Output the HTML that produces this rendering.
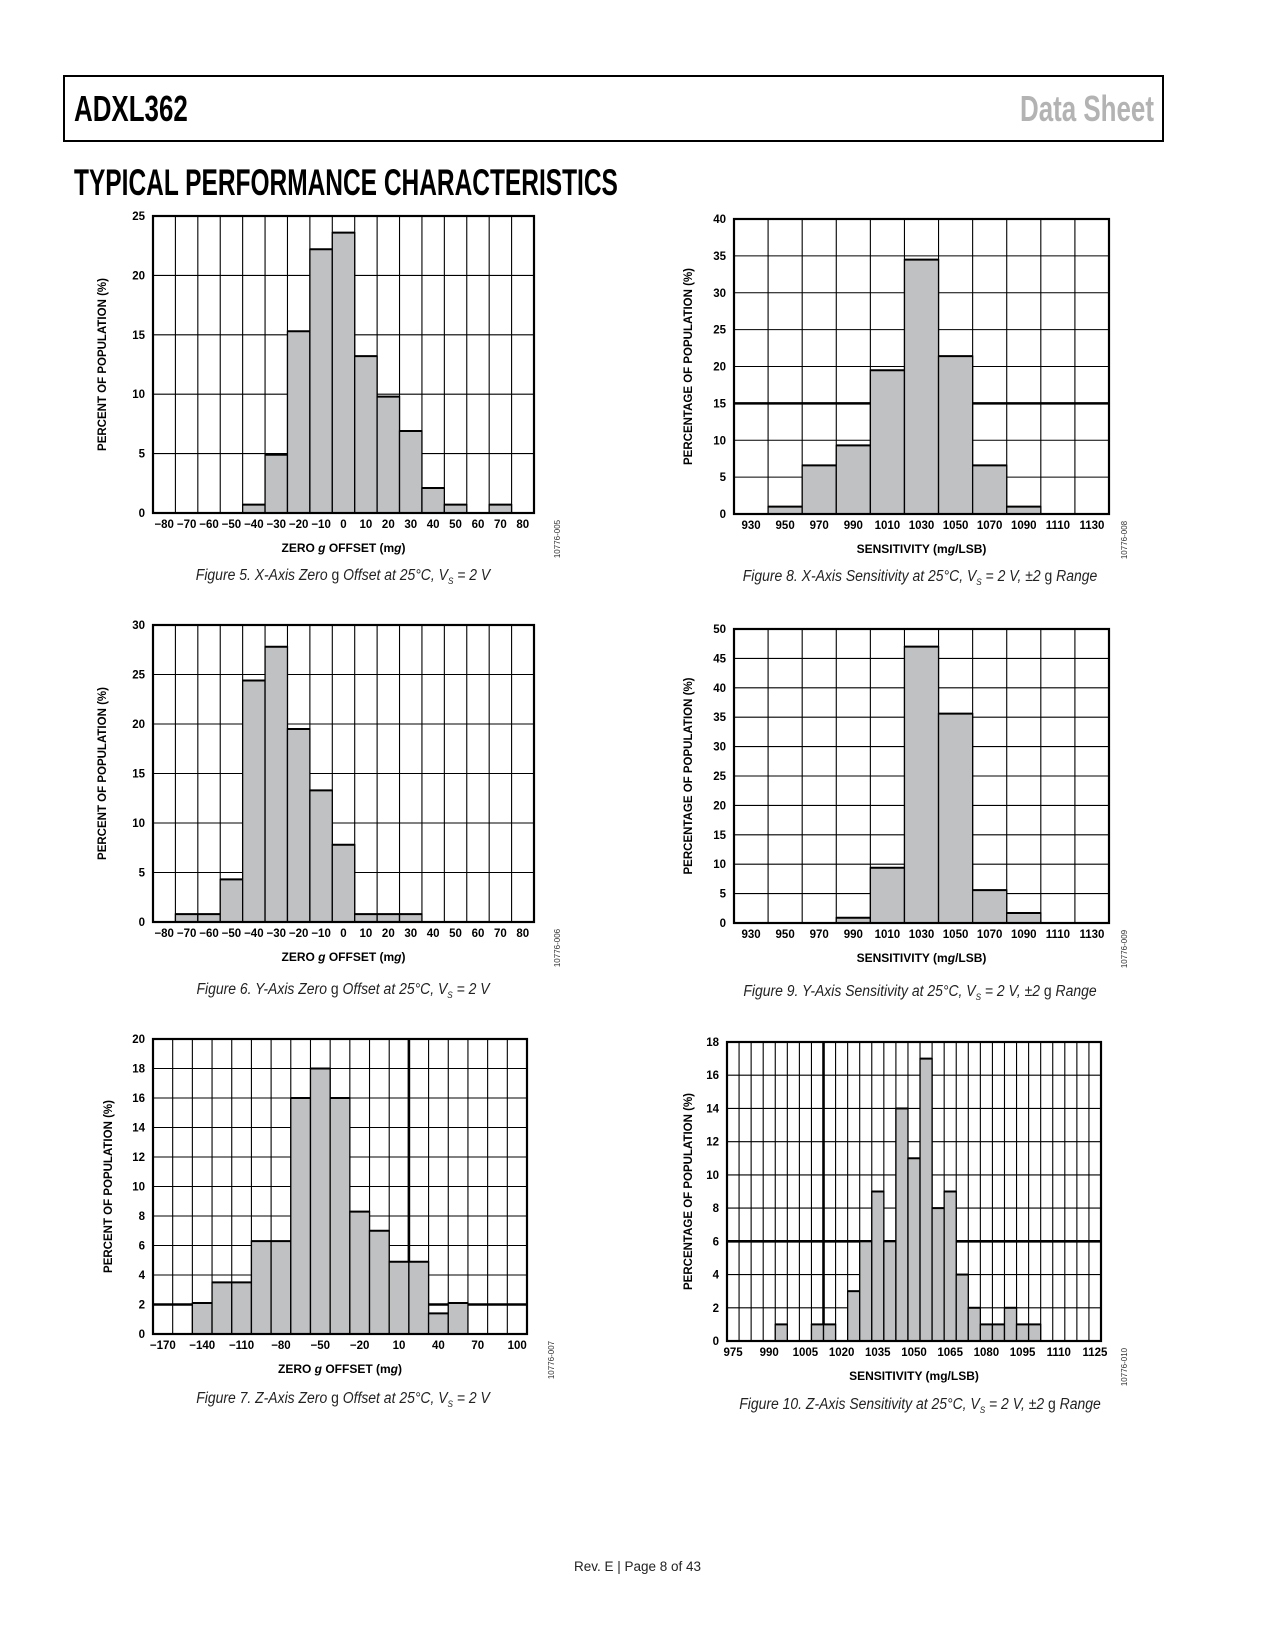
<!DOCTYPE html>
<html><head><meta charset="utf-8">
<style>
html,body{margin:0;padding:0;background:#fff;}
body{width:1275px;height:1650px;position:relative;overflow:hidden;font-family:"Liberation Sans",sans-serif;}
.hdr{position:absolute;left:63px;top:75px;width:1101px;height:67px;border:2px solid #000;box-sizing:border-box;}
.cond{font-weight:bold;transform-origin:0 0;transform:scaleX(0.72);white-space:nowrap;position:absolute;}
.cap{position:absolute;font-style:italic;font-size:15.5px;white-space:nowrap;transform:translateX(-50%) scaleX(0.9);color:#222;}
.foot{position:absolute;top:1559px;left:0;width:1275px;text-align:center;font-size:13.5px;color:#222;}
svg{position:absolute;left:0;top:0;}
</style></head><body>
<div class="hdr"></div>
<div class="cond" style="left:74px;top:88px;font-size:36px;">ADXL362</div>
<div class="cond" style="left:1020px;top:88px;font-size:36px;color:#b3b3b3;">Data Sheet</div>
<div class="cond" style="left:74px;top:162px;font-size:37px;transform:scaleX(0.662);">TYPICAL PERFORMANCE CHARACTERISTICS</div>

<div class="cap" style="left:343px;top:567px;">Figure 5. X-Axis Zero <span style="font-style:normal">g</span> Offset at 25°C, V<sub style="font-size:9px">S</sub> = 2 V</div>
<div class="cap" style="left:920px;top:568px;">Figure 8. X-Axis Sensitivity at 25°C, V<sub style="font-size:9px">S</sub> = 2 V, ±2 <span style="font-style:normal">g</span> Range</div>
<div class="cap" style="left:343px;top:981px;">Figure 6. Y-Axis Zero <span style="font-style:normal">g</span> Offset at 25°C, V<sub style="font-size:9px">S</sub> = 2 V</div>
<div class="cap" style="left:920px;top:983px;">Figure 9. Y-Axis Sensitivity at 25°C, V<sub style="font-size:9px">S</sub> = 2 V, ±2 <span style="font-style:normal">g</span> Range</div>
<div class="cap" style="left:343px;top:1390px;">Figure 7. Z-Axis Zero <span style="font-style:normal">g</span> Offset at 25°C, V<sub style="font-size:9px">S</sub> = 2 V</div>
<div class="cap" style="left:920px;top:1396px;">Figure 10. Z-Axis Sensitivity at 25°C, V<sub style="font-size:9px">S</sub> = 2 V, ±2 <span style="font-style:normal">g</span> Range</div>
<div class="foot">Rev. E | Page 8 of 43</div>

<svg id="charts" width="1275" height="1650"></svg>
<script>
// Figure 5
const fig5Labels = ["−80","−70","−60","−50","−40","−30","−20","−10","0","10","20","30","40","50","60","70","80"];
const fig5Values = [0,0,0,0,0.7,4.9,15.3,22.2,23.6,13.2,9.8,6.9,2.1,0.7,0,0.7,0];
const fig5YTicks = [0,5,10,15,20,25];
// Figure 6
const fig6Labels = ["−80","−70","−60","−50","−40","−30","−20","−10","0","10","20","30","40","50","60","70","80"];
const fig6Values = [0,0.8,0.8,4.3,24.4,27.8,19.5,13.3,7.8,0.8,0.8,0.8,0,0,0,0,0];
const fig6YTicks = [0,5,10,15,20,25,30];
// Figure 7
const fig7Labels = ["−170","","−140","","−110","","−80","","−50","","−20","","10","","40","","70","","100"];
const fig7Values = [0,0,2.1,3.5,3.5,6.3,6.3,16,18,16,8.3,7.0,4.9,4.9,1.4,2.1,0,0,0];
const fig7YTicks = [0,2,4,6,8,10,12,14,16,18,20];
// Figure 8
const fig8Labels = ["930","950","970","990","1010","1030","1050","1070","1090","1110","1130"];
const fig8Values = [0,1.0,6.6,9.3,19.5,34.5,21.4,6.6,1.0,0,0];
const fig8YTicks = [0,5,10,15,20,25,30,35,40];
// Figure 9
const fig9Labels = ["930","950","970","990","1010","1030","1050","1070","1090","1110","1130"];
const fig9Values = [0,0,0,0.9,9.4,47,35.6,5.6,1.7,0,0];
const fig9YTicks = [0,5,10,15,20,25,30,35,40,45,50];
// Figure 10
const fig10Labels = ["975","","","990","","","1005","","","1020","","","1035","","","1050","","","1065","","","1080","","","1095","","","1110","","","1125"];
const fig10Values = [0,0,0,0,1,0,0,1,1,0,3,6,9,6,14,11,17,8,9,4,2,1,1,2,1,1,0,0,0,0,0];
const fig10YTicks = [0,2,4,6,8,10,12,14,16,18];

const NS="http://www.w3.org/2000/svg";
const svg=document.getElementById('charts');
function mk(tag,attrs,parent,text){const e=document.createElementNS(NS,tag);for(const k in attrs)e.setAttribute(k,attrs[k]);if(text!==undefined)e.textContent=text;(parent||svg).appendChild(e);return e;}

function chart(cfg){
  const g=mk('g',{});
  
  
  const {L,R,T,B,labels,values,yTicks}=cfg;
  const n=labels.length, ymax=yTicks[yTicks.length-1];
  const cw=(R-L)/n;
  const xs=i=>L+i*cw;
  const ys=v=>B-(v/ymax)*(B-T);
  for(let i=1;i<n;i++){
    const gl=mk('line',{x1:xs(i),x2:xs(i),y1:T,y2:B,stroke:'#000','stroke-width':(cfg.thickV===i?2.6:1.1)},g);
    
    
  }
  yTicks.forEach(t=>{
    if(t>0&&t<ymax){
      const hl=mk('line',{x1:L,x2:R,y1:ys(t),y2:ys(t),stroke:'#000','stroke-width':(cfg.thickH===t?2.6:1.1)},g);
      
      
    }
    const tl=mk('text',{x:L-8,y:ys(t)+4,'text-anchor':'end','font-size':11.5,'font-weight':'bold','font-family':'Liberation Sans, sans-serif'},g,String(t));
    
    
  });
  values.forEach((v,i)=>{
    if(v<=0)return;
    const r=mk('rect',{x:xs(i),y:ys(v),width:cw,height:B-ys(v),fill:'#c0c1c3',stroke:'#000','stroke-width':1.3},g);
    
    
    const tp=mk('line',{x1:xs(i),x2:xs(i)+cw,y1:ys(v),y2:ys(v),stroke:'#000','stroke-width':2},g);
    
    
  });
  const fr=mk('rect',{x:L,y:T,width:R-L,height:B-T,fill:'none',stroke:'#000','stroke-width':2.2},g);
  
  
  labels.forEach((lb,i)=>{
    if(!lb)return;
    const xl=mk('text',{x:xs(i)+cw/2,y:B+15,'text-anchor':'middle','font-size':11.5,'font-weight':'bold','font-family':'Liberation Sans, sans-serif'},g,lb);
    
    
  });
  const xt=mk('text',{x:(L+R)/2,y:B+39,'text-anchor':'middle','font-size':12,'font-weight':'bold','font-family':'Liberation Sans, sans-serif'},g);
  xt.innerHTML=cfg.xTitle;
  
  
  const cy=(T+B)/2;
  const yt=mk('text',{x:cfg.yTitleX,y:cy,'text-anchor':'middle','font-size':11.5,'font-weight':'bold','font-family':'Liberation Sans, sans-serif',transform:`rotate(-90 ${cfg.yTitleX} ${cy})`},g,cfg.yTitle);
  
  
  const idx=cfg.idX, idy=B+26;
  const id=mk('text',{x:idx,y:idy,'text-anchor':'middle','font-size':8,'font-family':'Liberation Sans, sans-serif',fill:'#333',transform:`rotate(-90 ${idx} ${idy})`},g,cfg.id);
  
  
}
const zTitle='ZERO <tspan font-style="italic">g</tspan> OFFSET (m<tspan font-style="italic">g</tspan>)';
const sTitle='SENSITIVITY (m<tspan font-style="italic">g</tspan>/LSB)';
chart({name:'figure-5-chart',L:153,R:534,T:216,B:513,labels:fig5Labels,values:fig5Values,yTicks:fig5YTicks,xTitle:zTitle,yTitle:'PERCENT OF POPULATION (%)',yTitleX:106,idX:560,id:'10776-005'});
chart({name:'figure-6-chart',L:153,R:534,T:625,B:922,labels:fig6Labels,values:fig6Values,yTicks:fig6YTicks,xTitle:zTitle,yTitle:'PERCENT OF POPULATION (%)',yTitleX:106,idX:560,id:'10776-006'});
chart({name:'figure-7-chart',L:153,R:527,T:1039,B:1334,labels:fig7Labels,values:fig7Values,yTicks:fig7YTicks,thickH:2,thickV:13,xTitle:zTitle,yTitle:'PERCENT OF POPULATION (%)',yTitleX:112,idX:554,id:'10776-007'});
chart({name:'figure-8-chart',L:734,R:1109,T:219,B:514,labels:fig8Labels,values:fig8Values,yTicks:fig8YTicks,thickH:15,xTitle:sTitle,yTitle:'PERCENTAGE OF POPULATION (%)',yTitleX:692,idX:1127,id:'10776-008'});
chart({name:'figure-9-chart',L:734,R:1109,T:629,B:923,labels:fig9Labels,values:fig9Values,yTicks:fig9YTicks,xTitle:sTitle,yTitle:'PERCENTAGE OF POPULATION (%)',yTitleX:692,idX:1127,id:'10776-009'});
chart({name:'figure-10-chart',L:727,R:1101,T:1042,B:1341,labels:fig10Labels,values:fig10Values,yTicks:fig10YTicks,thickH:6,thickV:8,xTitle:'SENSITIVITY (mg/LSB)',yTitle:'PERCENTAGE OF POPULATION (%)',yTitleX:692,idX:1127,id:'10776-010'});
</script>
</body></html>
